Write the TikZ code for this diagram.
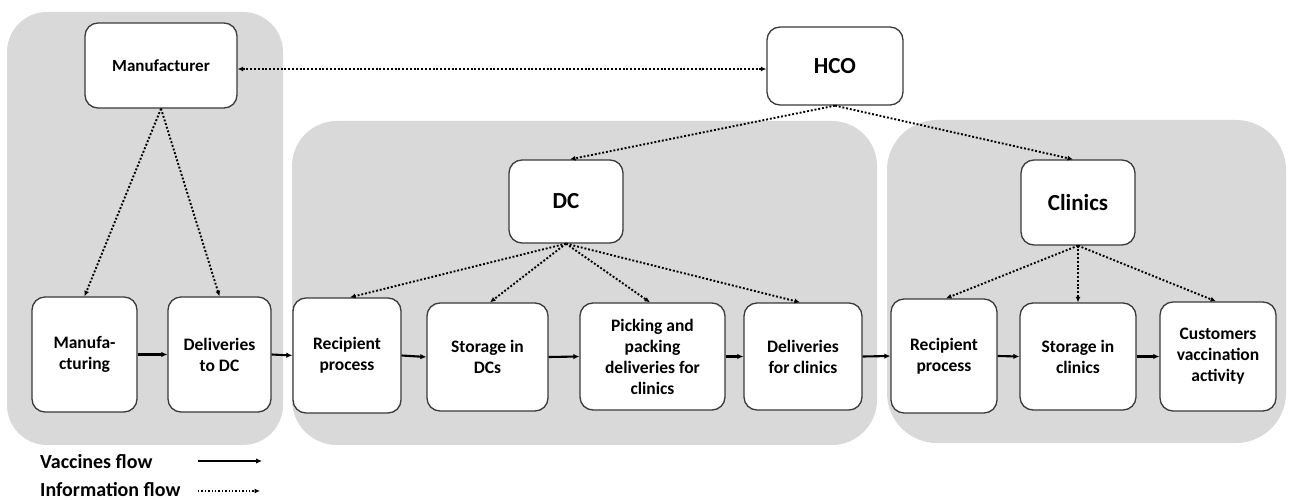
\documentclass[tikz,border=0pt]{standalone}
\usepackage{fontspec}
\setmainfont{Carlito}
\usetikzlibrary{arrows.meta}
\definecolor{panelgray}{HTML}{D9D9D9}
\definecolor{boxline}{HTML}{3A3A3A}
\tikzset{
  panel/.style={fill=panelgray, draw=none},
  box/.style={draw=boxline, line width=1.3pt, fill=white, rounded corners=13pt,
    inner sep=0pt, align=center, font=\fontsize{17.5}{21}\selectfont\bfseries},
  bigbox/.style={box, font=\fontsize{23}{27}\selectfont\bfseries},
  vflow/.style={line width=2.1pt, -{Latex[length=6pt,width=5.5pt]}},
  iflow/.style={line width=1.9pt, dash pattern=on 1.9pt off 1.9pt, -{Latex[length=5.5pt,width=5pt]}},
  legtext/.style={anchor=west, inner sep=0pt, font=\fontsize{20}{23}\selectfont\bfseries}
}
\begin{document}
\begin{tikzpicture}[x=1pt,y=-1pt]
\useasboundingbox (0,0) rectangle (1293,500);
% panels
\fill[panel, rounded corners=40pt] (7,12) rectangle (283,445);
\fill[panel, rounded corners=45pt] (292,121) rectangle (877,445);
\fill[panel, rounded corners=50pt] (887,120) rectangle (1286,443);
% top level nodes
\node[box, minimum width=152pt, minimum height=85pt, font=\fontsize{17}{20}\selectfont\bfseries] (man) at (161,65.5) {Manufacturer};
\node[bigbox, minimum width=136pt, minimum height=78pt] (hco) at (835,66) {HCO};
\node[bigbox, minimum width=114pt, minimum height=83pt] (dc) at (566,201.5) {DC};
\node[bigbox, minimum width=114pt, minimum height=85pt] (cli) at (1078,202.5) {Clinics};
% process nodes
\node[box, minimum width=105pt, minimum height=115pt] (mfg) at (84.5,354.5) {Manufa-\\cturing};
\node[box, minimum width=103pt, minimum height=115pt] (d2dc) at (219.5,354.5) {Deliveries\\to DC};
\node[box, minimum width=108pt, minimum height=115pt] (rec1) at (347,355.5) {Recipient\\process};
\node[box, minimum width=121pt, minimum height=108pt] (sdc) at (487.5,357) {Storage in\\DCs};
\node[box, minimum width=145pt, minimum height=107pt] (pick) at (652.5,356.5) {Picking and\\packing\\deliveries for\\clinics};
\node[box, minimum width=118pt, minimum height=107pt] (dcl) at (803,356.5) {Deliveries\\for clinics};
\node[box, minimum width=106pt, minimum height=114pt] (rec2) at (944,356) {Recipient\\process};
\node[box, minimum width=116pt, minimum height=107pt] (scl) at (1078,356.5) {Storage in\\clinics};
\node[box, minimum width=116pt, minimum height=109pt] (cust) at (1218,356.5) {Customers\\vaccination\\activity};
% vaccines flow
\draw[vflow] (mfg.east) -- (d2dc.west);
\draw[vflow] (d2dc.east) -- (rec1.west);
\draw[vflow] (rec1.east) -- (sdc.west);
\draw[vflow] (sdc.east) -- (pick.west);
\draw[vflow] (pick.east) -- (dcl.west);
\draw[vflow] (dcl.east) -- (rec2.west);
\draw[vflow] (rec2.east) -- (scl.west);
\draw[vflow] (scl.east) -- (cust.west);
% information flow
\draw[iflow, {Latex[length=5.5pt,width=5pt]}-{Latex[length=5.5pt,width=5pt]}] ([yshift=-3.5pt]man.east) -- ([yshift=-3pt]hco.west);
\draw[iflow] (man.south) -- (mfg.north);
\draw[iflow] (man.south) -- (d2dc.north);
\draw[iflow] (hco.south) -- ([xshift=4pt]dc.north);
\draw[iflow] (hco.south) -- ([xshift=-5pt]cli.north);
\draw[iflow] (dc.south) -- ([xshift=3pt]rec1.north);
\draw[iflow] (dc.south) -- ([xshift=2.5pt]sdc.north);
\draw[iflow] (dc.south) -- ([xshift=-2.5pt]pick.north);
\draw[iflow] (dc.south) -- ([xshift=-3pt]dcl.north);
\draw[iflow] (cli.south) -- ([xshift=2pt]rec2.north);
\draw[iflow] (cli.south) -- (scl.north);
\draw[iflow] (cli.south) -- ([xshift=-2pt]cust.north);
% legend
\node[legtext] (lv) at (40,462) {Vaccines flow};
\node[legtext] (li) at (40,490) {Information flow};
\coordinate (va) at (198,461);
\coordinate (vb) at (262,461);
\coordinate (ia) at (198,491);
\coordinate (ib) at (260,491);
\draw[vflow, line width=1.7pt] (va) -- (vb);
\draw[iflow, line width=1.4pt, dash pattern=on 1.4pt off 2pt] (ia) -- (ib);
\end{tikzpicture}
\end{document}
